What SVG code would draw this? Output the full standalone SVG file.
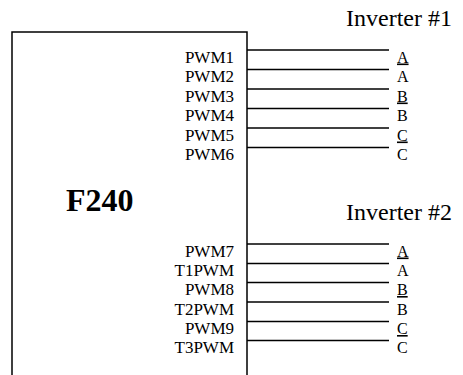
<svg xmlns="http://www.w3.org/2000/svg" width="463" height="375" viewBox="0 0 463 375">
<style>
text{font-family:"Liberation Serif","Times New Roman",serif;fill:#000}
.lbl{font-size:17px;text-anchor:end}
.pin{font-size:16px}
.u{text-decoration:underline}
.title{font-size:24px}
.chip{font-size:32px;font-weight:bold}
line,path{stroke:#000;stroke-width:1.5;fill:none}
</style>
<rect width="463" height="375" fill="#fff"/>
<g id="f240">
<path d="M12,375 V32 H247 V375"/>
<text class="chip" x="66" y="211">F240</text>
<text class="lbl" x="234" y="62.5">PWM1</text>
<text class="lbl" x="234" y="82">PWM2</text>
<text class="lbl" x="234" y="101.5">PWM3</text>
<text class="lbl" x="234" y="121">PWM4</text>
<text class="lbl" x="234" y="140.5">PWM5</text>
<text class="lbl" x="234" y="160">PWM6</text>
<text class="lbl" x="234" y="256.5">PWM7</text>
<text class="lbl" x="234" y="276">T1PWM</text>
<text class="lbl" x="234" y="295">PWM8</text>
<text class="lbl" x="234" y="314.5">T2PWM</text>
<text class="lbl" x="234" y="334">PWM9</text>
<text class="lbl" x="234" y="353">T3PWM</text>
</g>
<g id="inverter1">
<text class="title" x="346" y="26">Inverter #1</text>
<text class="pin u" x="397" y="62.5">A</text>
<text class="pin" x="397" y="82">A</text>
<text class="pin u" x="397" y="101.5">B</text>
<text class="pin" x="397" y="121">B</text>
<text class="pin u" x="397" y="140.5">C</text>
<text class="pin" x="397" y="160">C</text>
</g>
<g id="inverter2">
<text class="title" x="346" y="220">Inverter #2</text>
<text class="pin u" x="397" y="256.5">A</text>
<text class="pin" x="397" y="276">A</text>
<text class="pin u" x="397" y="295">B</text>
<text class="pin" x="397" y="314.5">B</text>
<text class="pin u" x="397" y="334">C</text>
<text class="pin" x="397" y="353">C</text>
</g>
<g id="connectors">
<line x1="247" y1="50" x2="389" y2="50"/>
<line x1="247" y1="69.5" x2="389" y2="69.5"/>
<line x1="247" y1="89" x2="389" y2="89"/>
<line x1="247" y1="108.5" x2="389" y2="108.5"/>
<line x1="247" y1="128" x2="389" y2="128"/>
<line x1="247" y1="147.5" x2="389" y2="147.5"/>
<line x1="247" y1="244" x2="389" y2="244"/>
<line x1="247" y1="263.5" x2="389" y2="263.5"/>
<line x1="247" y1="282.5" x2="389" y2="282.5"/>
<line x1="247" y1="302" x2="389" y2="302"/>
<line x1="247" y1="321.5" x2="389" y2="321.5"/>
<line x1="247" y1="340.5" x2="389" y2="340.5"/>
</g>
</svg>
